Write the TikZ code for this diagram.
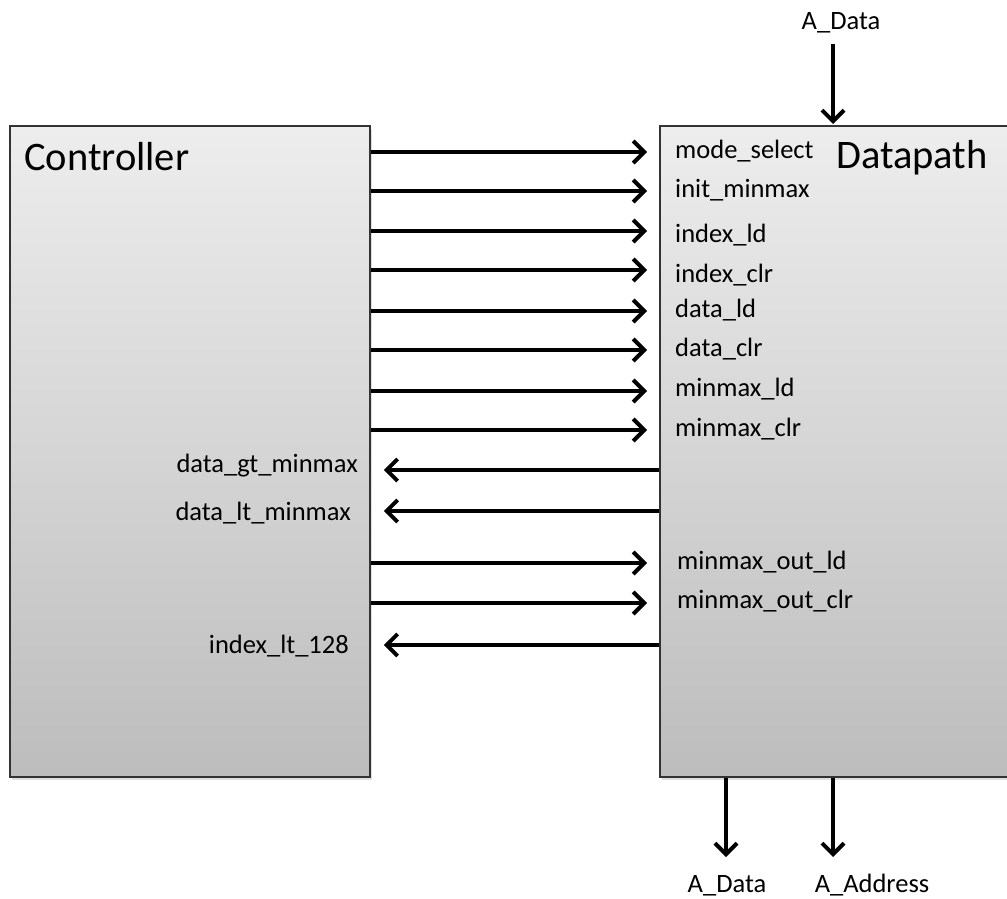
\documentclass[tikz,border=0pt]{standalone}
\usepackage{fontspec}
\setmainfont{Carlito}
\usetikzlibrary{arrows.meta,shadows}
\begin{document}
\begin{tikzpicture}[x=1pt,y=-1pt,
  block/.style={draw=black!80,line width=1.8pt,rectangle,inner sep=0pt,
    top color=black!7,bottom color=black!26,
    drop shadow={opacity=0.25,shadow xshift=2pt,shadow yshift=-3pt}},
  sig/.style={line width=4pt,-{Straight Barb[length=11pt,width=22pt]}},
  lbl/.style={font=\fontsize{26.5}{31}\selectfont,inner sep=0pt},
  title/.style={font=\fontsize{40.5}{48}\selectfont,inner sep=0pt}]
\useasboundingbox (0,0) rectangle (1007,899);
% the two blocks
\node[block,minimum width=360pt,minimum height=651pt,anchor=north west] (ctrl) at (9,125) {};
\node[block,minimum width=360pt,minimum height=651pt,anchor=north west] (dp) at (659,125) {};
\node[title,anchor=base west] (ctrlname) at (24,170) {Controller};
\node[title,anchor=base west] (dpname) at (836,168) {Datapath};
% control signals into the datapath (arrow y / label baseline)
\foreach \y/\b/\name/\txt in {152/158/ms/mode\_select,191/197/im/init\_minmax,231/242/il/index\_ld,
    270/282/ic/index\_clr,311/317/dl/data\_ld,350/356/dc/data\_clr,391/396/ml/minmax\_ld,430/436/mc/minmax\_clr}{
  \node[lbl,anchor=base west] (\name) at (675,\b) {\txt};
  \draw[sig,shorten >=12pt] (ctrl.east |- 0,\y) -- (dp.west |- 0,\y);
}
\foreach \y/\b/\name/\txt in {563/569/mol/minmax\_out\_ld,603/608/moc/minmax\_out\_clr}{
  \node[lbl,anchor=base west] (\name) at (677,\b) {\txt};
  \draw[sig,shorten >=12pt] (ctrl.east |- 0,\y) -- (dp.west |- 0,\y);
}
% status signals back to the controller
\foreach \y in {470,511,645}{
  \draw[sig,shorten >=13pt] (dp.west |- 0,\y) -- (ctrl.east |- 0,\y);
}
\node[lbl,anchor=base east] (gtl) at (358,472) {data\_gt\_minmax};
\node[lbl,anchor=base east] (ltl) at (351,520) {data\_lt\_minmax};
\node[lbl,anchor=base east] (iltl) at (349,653) {index\_lt\_128};
% memory interface
\node[lbl,anchor=base] (adin) at (841,30) {A\_Data};
\coordinate (inx) at (833,44);
\draw[sig,shorten >=1pt] (inx) -- (inx |- dp.north);
\coordinate (outd) at (726,0);
\coordinate (outa) at (833,0);
\node[lbl,anchor=base] (adout) at (727,892) {A\_Data};
\node[lbl,anchor=base] (aaddr) at (872,892) {A\_Address};
\draw[sig] (outd |- dp.south) -- (outd |- 0,857);
\draw[sig] (outa |- dp.south) -- (outa |- 0,857);
\end{tikzpicture}
\end{document}
